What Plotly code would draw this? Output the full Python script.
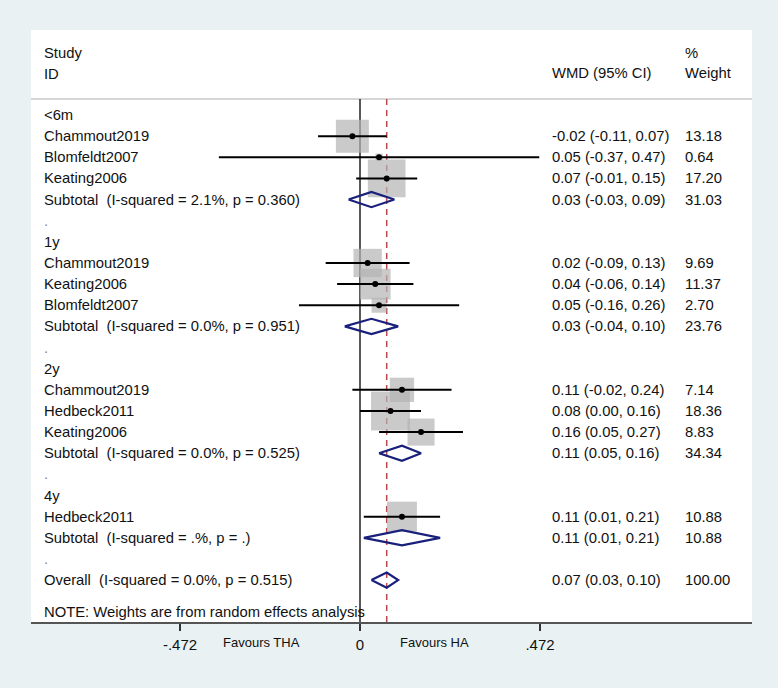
import math
import plotly.graph_objects as go

# ---------------- data ----------------
row_labels = [
    "<6m", "Chammout2019", "Blomfeldt2007", "Keating2006",
    "Subtotal  (I-squared = 2.1%, p = 0.360)", ".",
    "1y", "Chammout2019", "Keating2006", "Blomfeldt2007",
    "Subtotal  (I-squared = 0.0%, p = 0.951)", ".",
    "2y", "Chammout2019", "Hedbeck2011", "Keating2006",
    "Subtotal  (I-squared = 0.0%, p = 0.525)", ".",
    "4y", "Hedbeck2011",
    "Subtotal  (I-squared = .%, p = .)", ".",
    "Overall  (I-squared = 0.0%, p = 0.515)",
]
row_kind = [
    "group", "study", "study", "study", "sub", "blank",
    "group", "study", "study", "study", "sub", "blank",
    "group", "study", "study", "study", "sub", "blank",
    "group", "study", "sub", "blank",
    "overall",
]
wmd = [None, -0.02, 0.05, 0.07, 0.03, None,
       None, 0.02, 0.04, 0.05, 0.03, None,
       None, 0.11, 0.08, 0.16, 0.11, None,
       None, 0.11, 0.11, None,
       0.07]
ci_low = [None, -0.11, -0.37, -0.01, -0.03, None,
          None, -0.09, -0.06, -0.16, -0.04, None,
          None, -0.02, 0.00, 0.05, 0.05, None,
          None, 0.01, 0.01, None,
          0.03]
ci_high = [None, 0.07, 0.47, 0.15, 0.09, None,
           None, 0.13, 0.14, 0.26, 0.10, None,
           None, 0.24, 0.16, 0.27, 0.16, None,
           None, 0.21, 0.21, None,
           0.10]
weight = [None, 13.18, 0.64, 17.20, 31.03, None,
          None, 9.69, 11.37, 2.70, 23.76, None,
          None, 7.14, 18.36, 8.83, 34.34, None,
          None, 10.88, 10.88, None,
          100.00]
tick_vals = [-0.472, 0, 0.472]
tick_text = ["-.472", "0", ".472"]
header_left = ["Study", "ID"]
header_mid = "WMD (95% CI)"
header_right = ["%", "Weight"]
note_text = "NOTE: Weights are from random effects analysis"
favours = ["Favours THA", "Favours HA"]

# ---------------- style / layout ----------------
W, H = 778, 688
ML, MR, MT, MB = 31, 26, 30, 66
PX0 = 360.0          # pixel of x = 0
PXU = 381.4          # pixels per unit
ROW0 = 115.0         # pixel of row 0
ROWH = 21.14         # pixels per row
plot_w = W - ML - MR
plot_h = H - MT - MB
x_range = [(ML - PX0) / PXU, (W - MR - PX0) / PXU]
y_range = [(H - MB - ROW0) / ROWH, (MT - ROW0) / ROWH]

FONT = "Liberation Sans, Arial, sans-serif"
TXT = "#111111"
BOXC = "#b3b3b3"
NAVY = "#18207c"
RED = "#b8484a"
BG = "#e9f1f3"


def px_to_paper_x(px):
    return (px - ML) / plot_w


def px_to_paper_y(py):
    return (H - MB - py) / plot_h


def px_to_row(py):
    return (py - ROW0) / ROWH


fig = go.Figure()

study_idx = [i for i, k in enumerate(row_kind) if k == "study"]
pool_idx = [i for i, k in enumerate(row_kind) if k in ("sub", "overall")]

# boxes (area proportional to weight)
fig.add_trace(go.Scatter(
    x=[wmd[i] for i in study_idx], y=study_idx, mode="markers",
    marker=dict(symbol="square", color=BOXC,
                size=[9.09 * math.sqrt(weight[i]) for i in study_idx],
                line=dict(width=0)),
    hoverinfo="skip", showlegend=False))

# confidence intervals
cx, cy = [], []
for i in study_idx:
    cx += [ci_low[i], ci_high[i], None]
    cy += [i, i, None]
fig.add_trace(go.Scatter(x=cx, y=cy, mode="lines",
                         line=dict(color="black", width=2),
                         hoverinfo="skip", showlegend=False))

# point estimates
fig.add_trace(go.Scatter(
    x=[wmd[i] for i in study_idx], y=study_idx, mode="markers",
    marker=dict(symbol="circle", color="black", size=6),
    hoverinfo="skip", showlegend=False))

# diamonds
hh = 0.36
dx, dy = [], []
for i in pool_idx:
    dx += [ci_low[i], wmd[i], ci_high[i], wmd[i], ci_low[i], None]
    dy += [i, i - hh, i, i + hh, i, None]
fig.add_trace(go.Scatter(x=dx, y=dy, mode="lines",
                         line=dict(color=NAVY, width=2.2),
                         hoverinfo="skip", showlegend=False))

overall_est = wmd[row_kind.index("overall")]
sep_row = px_to_row(99)

shapes = [
    dict(type="line", xref="paper", yref="y", x0=0, x1=1,
         y0=sep_row, y1=sep_row, line=dict(color="#c8c8c8", width=1.6),
         layer="below"),
    dict(type="line", xref="x", yref="y", x0=0, x1=0,
         y0=sep_row, y1=y_range[0], line=dict(color="#222222", width=1.5),
         layer="below"),
    dict(type="line", xref="x", yref="paper", x0=0, x1=0,
         y0=0, y1=px_to_paper_y(630), line=dict(color="#222222", width=1.5),
         layer="below"),
    dict(type="line", xref="x", yref="y", x0=overall_est, x1=overall_est,
         y0=sep_row, y1=y_range[0],
         line=dict(color=RED, width=1.5, dash="6px,5px"), layer="below"),
]

ann = []
fs = 14.8
for i, lab in enumerate(row_labels):
    ann.append(dict(xref="paper", yref="y", x=px_to_paper_x(42), y=i,
                    text=lab.replace("  ", "\u00a0\u00a0"),
                    xanchor="left", yanchor="middle", showarrow=False,
                    font=dict(size=fs, color=TXT if lab != "." else "#888888")))
    if wmd[i] is not None:
        ann.append(dict(xref="paper", yref="y", x=px_to_paper_x(550), y=i,
                        text=f"{wmd[i]:.2f} ({ci_low[i]:.2f}, {ci_high[i]:.2f})",
                        xanchor="left", yanchor="middle", showarrow=False,
                        font=dict(size=fs, color=TXT)))
        ann.append(dict(xref="paper", yref="y", x=px_to_paper_x(683), y=i,
                        text=f"{weight[i]:.2f}",
                        xanchor="left", yanchor="middle", showarrow=False,
                        font=dict(size=fs, color=TXT)))

for txt, py in zip(header_left, [53, 74]):
    ann.append(dict(xref="paper", yref="y", x=px_to_paper_x(42), y=px_to_row(py),
                    text=txt, xanchor="left", yanchor="middle", showarrow=False,
                    font=dict(size=fs, color=TXT)))
ann.append(dict(xref="paper", yref="y", x=px_to_paper_x(550), y=px_to_row(73),
                text=header_mid, xanchor="left", yanchor="middle", showarrow=False,
                font=dict(size=fs, color=TXT)))
for txt, py in zip(header_right, [53, 73]):
    ann.append(dict(xref="paper", yref="y", x=px_to_paper_x(683), y=px_to_row(py),
                    text=txt, xanchor="left", yanchor="middle", showarrow=False,
                    font=dict(size=fs, color=TXT)))
ann.append(dict(xref="paper", yref="y", x=px_to_paper_x(42), y=px_to_row(612),
                text=note_text, xanchor="left", yanchor="middle", showarrow=False,
                font=dict(size=fs, color=TXT)))
for txt, px in zip(favours, [261, 434]):
    ann.append(dict(xref="paper", yref="paper", x=px_to_paper_x(px),
                    y=px_to_paper_y(642), text=txt, xanchor="center",
                    yanchor="middle", showarrow=False,
                    font=dict(size=13, color=TXT)))

fig.update_layout(
    width=W, height=H,
    margin=dict(l=ML, r=MR, t=MT, b=MB),
    paper_bgcolor=BG, plot_bgcolor="white",
    font=dict(family=FONT, color=TXT),
    shapes=shapes, annotations=ann, showlegend=False,
    xaxis=dict(range=x_range, showgrid=False, zeroline=False,
               showline=True, linecolor="#555555", linewidth=2,
               ticks="outside", ticklen=7, tickwidth=1.5, tickcolor="#333333",
               tickvals=tick_vals, ticktext=tick_text,
               tickfont=dict(size=15, color=TXT, family=FONT),
               ticklabelstandoff=1, fixedrange=True),
    yaxis=dict(range=y_range, visible=False, showgrid=False, zeroline=False,
               fixedrange=True),
)

fig.write_html(
    "out.html",
    config={"displayModeBar": False, "responsive": False},
    post_script="document.body.style.margin='0';document.body.style.overflow='hidden';",
)
